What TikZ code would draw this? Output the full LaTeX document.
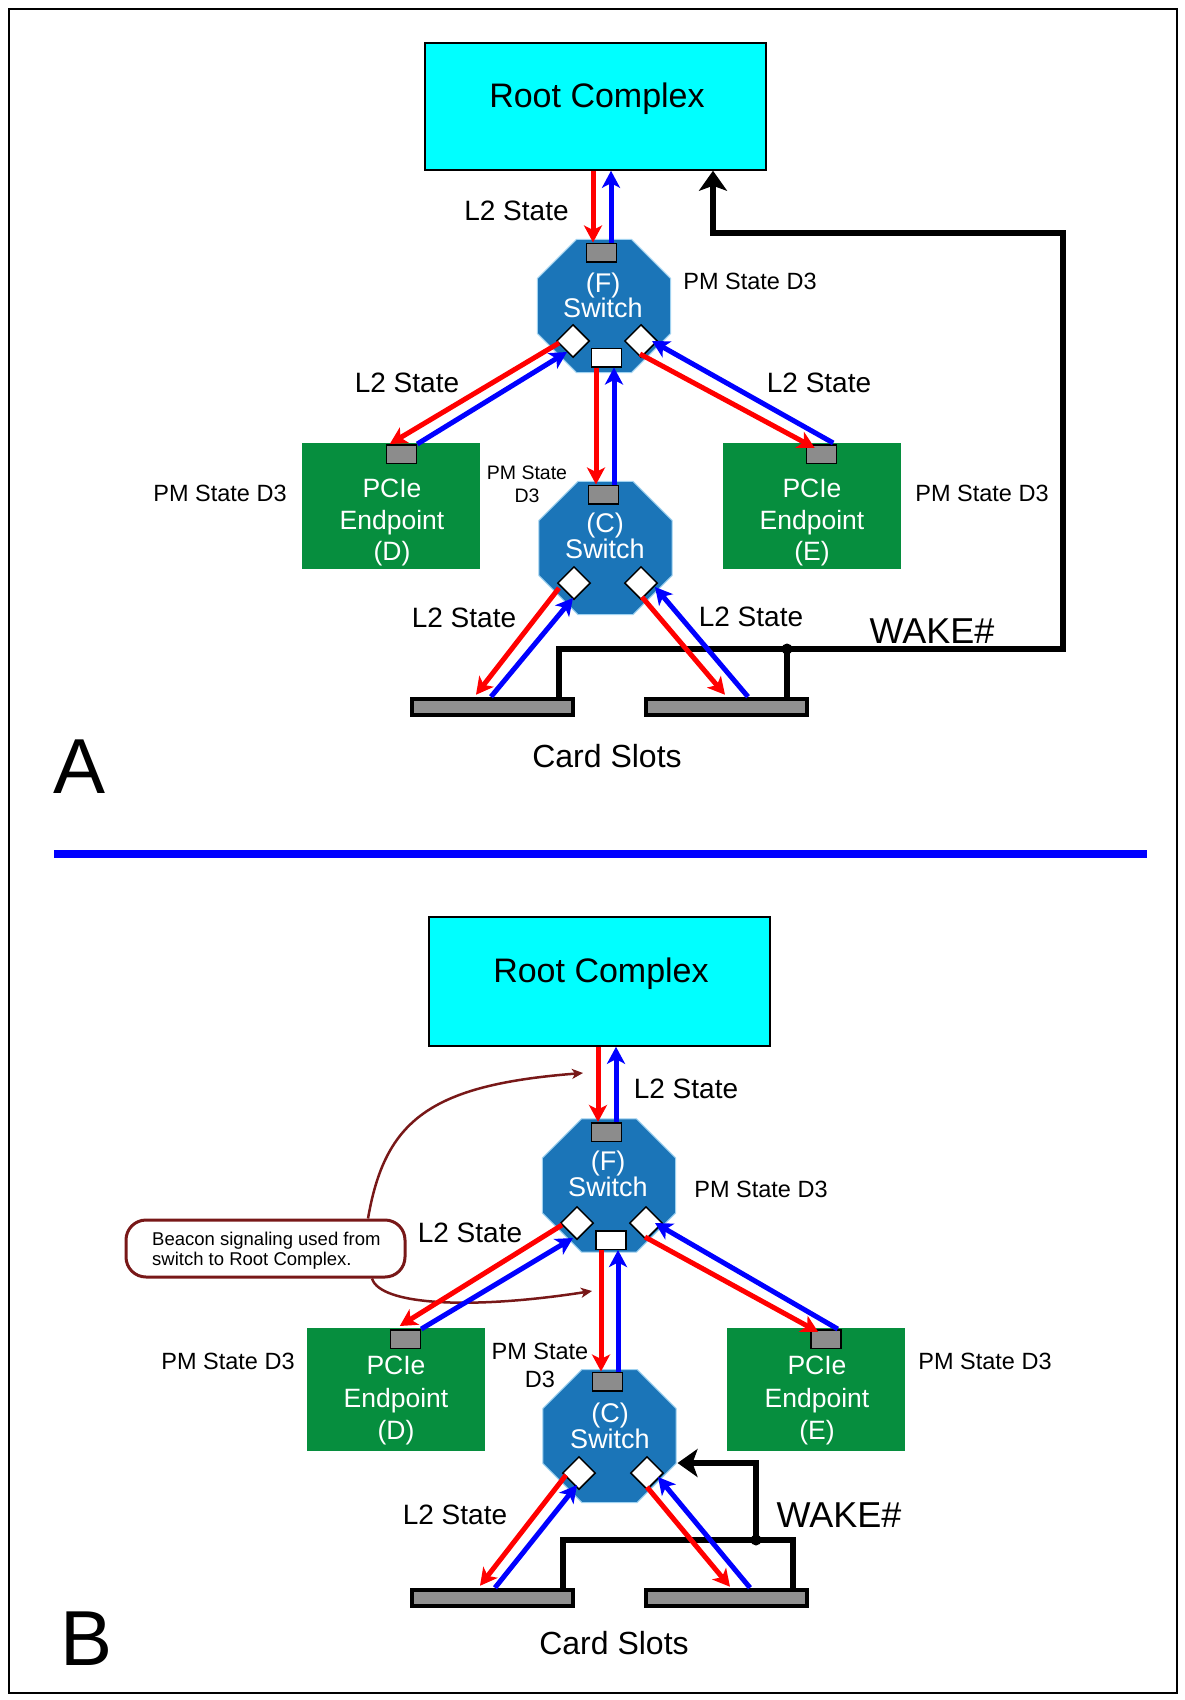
\documentclass[tikz,border=0pt]{standalone}
\usepackage{fontspec}
\setmainfont{Liberation Sans}
\usetikzlibrary{arrows.meta,shapes.geometric,calc}
\definecolor{rccyan}{RGB}{0,255,255}
\definecolor{swblue}{RGB}{27,117,184}
\definecolor{swedge}{RGB}{160,210,240}
\definecolor{epgreen}{RGB}{6,142,62}
\definecolor{portgray}{RGB}{140,140,140}
\definecolor{slotgray}{RGB}{145,145,145}
\definecolor{beaconred}{RGB}{120,24,24}
\definecolor{arrred}{RGB}{255,0,0}
\definecolor{arrblue}{RGB}{0,0,255}
\tikzset{
  rootbox/.style={rectangle, draw=black, line width=1.5pt, fill=rccyan, inner sep=0pt, minimum width=341pt, minimum height=127pt},
  switchoct/.style={regular polygon, regular polygon sides=8, fill=swblue, draw=swedge, line width=1pt, inner sep=0pt, minimum size=144pt},
  portbox/.style={rectangle, draw=black, line width=1.5pt, fill=portgray, inner sep=0pt, minimum width=30pt, minimum height=18.5pt},
  portwhite/.style={portbox, fill=white},
  portdiam/.style={diamond, aspect=1, draw=black, line width=1.5pt, fill=white, inner sep=0pt, minimum width=33pt, minimum height=33pt},
  epbox/.style={rectangle, fill=epgreen, inner sep=0pt, minimum width=178pt, minimum height=126pt},
  slotbox/.style={rectangle, draw=black, line width=4pt, fill=slotgray, inner sep=0pt, minimum width=161pt, minimum height=16.5pt},
  callout/.style={rectangle, rounded corners=20pt, draw=beaconred, line width=3pt, fill=white, inner sep=0pt, minimum width=279pt, minimum height=57pt},
  jdot/.style={circle, fill=black, inner sep=0pt, minimum size=11pt},
  redarr/.style={draw=arrred, line width=5pt, -{Stealth[length=17pt,width=18pt,inset=4.5pt]}},
  bluearr/.style={draw=arrblue, line width=5pt, -{Stealth[length=17pt,width=18pt,inset=4.5pt]}},
  wire/.style={draw=black, line width=6pt},
  wirearr/.style={wire, -{Stealth[length=20pt,width=28pt,inset=5pt]}},
  beacon/.style={draw=beaconred, line width=2.5pt, -{Stealth[length=11pt,width=10pt,inset=3pt]}},
  txt/.style={inner sep=0pt, anchor=base},
  fRoot/.style={txt, font=\fontsize{34}{40}\selectfont},
  fL2/.style={txt, font=\fontsize{28}{32}\selectfont},
  fPM/.style={txt, font=\fontsize{23.5}{27}\selectfont},
  fPMs/.style={txt, font=\fontsize{19.5}{23}\selectfont},
  fSw/.style={txt, text=white, font=\fontsize{27}{30}\selectfont},
  fEp/.style={txt, text=white, font=\fontsize{26.5}{30}\selectfont},
  fCard/.style={txt, font=\fontsize{32}{36}\selectfont},
  fWake/.style={txt, font=\fontsize{36}{40}\selectfont},
  fBig/.style={txt, font=\fontsize{78}{90}\selectfont},
  fBeacon/.style={inner sep=0pt, anchor=base west, font=\fontsize{18.5}{21}\selectfont},
}
\begin{document}
\begin{tikzpicture}[x=1pt,y=-1pt]
\useasboundingbox (0,0) rectangle (1185,1700);
\fill[white] (0,0) rectangle (1185,1700);
\draw[line width=1.5pt] (9,9) rectangle (1177,1693);

% ================= Panel A =================
\node[rootbox] (RA) at (595.5,106.5) {};
\node[fRoot] (RAt) at (597,107) {Root Complex};

\node[switchoct] (FA) at (604,306) {};
\node[portbox] (FAp) at (601.5,252.5) {};
\node[portdiam] (FAl) at (573,341) {};
\node[portdiam] (FAr) at (641,341) {};
\node[portwhite] (FAm) at (606.5,357.5) {};
\node[fSw] (FAt1) at (603,292) {(F)};
\node[fSw] (FAt2) at (603,317) {Switch};

\node[epbox] (DA) at (391,506) {};
\node[portbox] (DAp) at (401.5,454) {};
\node[fEp] (DAt1) at (392,497) {PCIe};
\node[fEp] (DAt2) at (392,529) {Endpoint};
\node[fEp] (DAt3) at (392,560) {(D)};

\node[epbox] (EA) at (811.5,506) {};
\node[portbox] (EAp) at (821.5,454) {};
\node[fEp] (EAt1) at (812,497) {PCIe};
\node[fEp] (EAt2) at (812,529) {Endpoint};
\node[fEp] (EAt3) at (812,560) {(E)};

\node[switchoct] (CA) at (605.5,548) {};
\node[portbox] (CAp) at (603.5,494.5) {};
\node[portdiam] (CAl) at (574,583) {};
\node[portdiam] (CAr) at (641,583) {};
\node[fSw] (CAt1) at (605,532) {(C)};
\node[fSw] (CAt2) at (605,558) {Switch};

\node[slotbox] (SA1) at (492.5,707) {};
\node[slotbox] (SA2) at (726,707) {};
\node[jdot] (JA) at (787,649) {};
\coordinate (WA1) at (1063,649);
\coordinate (WA2) at (1063,233);

\node[fL2] (LA1) at (516.5,220) {L2 State};
\node[fPM] (PA1) at (750,289) {PM State D3};
\node[fL2] (LA2) at (407,392) {L2 State};
\node[fL2] (LA3) at (819,392) {L2 State};
\node[fPM] (PA2) at (220,501) {PM State D3};
\node[fPM] (PA3) at (982,501) {PM State D3};
\node[fPMs] (PA4a) at (527,479) {PM State};
\node[fPMs] (PA4b) at (527,502) {D3};
\node[fL2] (LA4) at (464,627) {L2 State};
\node[fL2] (LA5) at (751,626) {L2 State};
\node[fWake] (WAt) at (932,643) {WAKE\#};
\node[fCard] (CSA) at (607,767) {Card Slots};
\node[fBig] (LetA) at (80,793) {A};

% wires A
\draw[wirearr] ($(SA1.north)+(66.5,0)$) |- (WA1) -- (WA2) -| ($(RA.south)+(117.5,0)$);
\draw[wire] ($(SA2.north)+(61,0)$) -- (JA.center);

% links A
\draw[redarr] ($(RA.south)+(-2.5,0)$) -- ($(FAp.north)+(-8.5,0)$);
\draw[bluearr] ($(FAp.north)+(9.5,0)$) -- ($(RA.south)+(15.5,0)$);
\draw[redarr] ($(FAl.center)+(-14,2)$) -- ($(DAp.north west)+(4,0)$);
\draw[bluearr] (DAp.north east) -- ($(FAl.center)+(-6,11)$);
\draw[redarr] ($(FAr.center)+(-1,13)$) -- ($(EAp.north west)+(9,4)$);
\draw[bluearr] ($(EAp.north east)+(-4,-1)$) -- ($(FAr.center)+(11,0)$);
\draw[redarr] ($(FAm.south)+(-10.5,0)$) -- ($(CAp.north)+(-7.5,0)$);
\draw[bluearr] ($(CAp.north)+(10.5,0)$) -- ($(FAm.south)+(7.5,0)$);
\draw[redarr] ($(CAl.center)+(-15,5)$) -- ($(SA1.north)+(-16.5,-2)$);
\draw[bluearr] ($(SA1.north)+(-1.5,0)$) -- ($(CAl.center)+(-1,15)$);
\draw[redarr] ($(CAr.center)+(1,14)$) -- ($(SA2.north)+(-1,-2)$);
\draw[bluearr] ($(SA2.north)+(22,0)$) -- ($(CAr.center)+(14,4)$);

% separator
\draw[draw=arrblue, line width=8pt] (54,854) -- (1147,854);

% ================= Panel B =================
\node[rootbox, minimum height=129pt] (RB) at (599.5,981.5) {};
\node[fRoot] (RBt) at (601,982) {Root Complex};

\node[switchoct] (FB) at (609,1185.5) {};
\node[portbox] (FBp) at (606.5,1132) {};
\node[portdiam] (FBl) at (577,1223) {};
\node[portdiam] (FBr) at (646,1223) {};
\node[portwhite] (FBm) at (611,1240) {};
\node[fSw] (FBt1) at (608,1170) {(F)};
\node[fSw] (FBt2) at (608,1196) {Switch};

\node[epbox, minimum height=123pt] (DB) at (396,1389.5) {};
\node[portbox] (DBp) at (405.5,1339) {};
\node[fEp] (DBt1) at (396,1374) {PCIe};
\node[fEp] (DBt2) at (396,1407) {Endpoint};
\node[fEp] (DBt3) at (396,1439) {(D)};

\node[epbox, minimum height=123pt] (EB) at (816,1389.5) {};
\node[portbox] (EBp) at (826,1339) {};
\node[fEp] (EBt1) at (817,1374) {PCIe};
\node[fEp] (EBt2) at (817,1407) {Endpoint};
\node[fEp] (EBt3) at (817,1439) {(E)};

\node[switchoct] (CB) at (609.5,1436) {};
\node[portbox] (CBp) at (607.5,1381.5) {};
\node[portdiam] (CBl) at (579,1473) {};
\node[portdiam] (CBr) at (647,1473) {};
\node[fSw] (CBt1) at (610,1422) {(C)};
\node[fSw] (CBt2) at (610,1448) {Switch};

\node[slotbox] (SB1) at (492,1598) {};
\node[slotbox] (SB2) at (726.5,1598) {};
\node[jdot] (JB) at (756,1540) {};
\coordinate (WB1) at (793,1540);

\node[fL2] (LB1) at (686,1098) {L2 State};
\node[fPM] (PB1) at (761,1197) {PM State D3};
\node[fL2] (LB2) at (470,1242) {L2 State};
\node[fPM] (PB2) at (228,1369) {PM State D3};
\node[fPM] (PB3) at (985,1369) {PM State D3};
\node[fPM] (PB4a) at (540,1359) {PM State};
\node[fPM] (PB4b) at (540,1387) {D3};
\node[fL2] (LB3) at (455,1524) {L2 State};
\node[fWake] (WBt) at (839,1527) {WAKE\#};
\node[fCard] (CSB) at (614,1654) {Card Slots};
\node[fBig] (LetB) at (87,1665) {B};

% callout
\node[callout] (BC) at (265.5,1248.5) {};
\node[fBeacon] (BCt1) at (152,1245) {Beacon signaling used from};
\node[fBeacon] (BCt2) at (152,1265) {switch to Root Complex.};
\coordinate (BT1) at (583,1073);
\coordinate (BT2) at (592,1291);
\draw[beacon] ($(BC.north)+(102.5,0)$) .. controls (385,1120) and (430,1085) .. (BT1);
\draw[beacon] ($(BC.south)+(106.5,0)$) .. controls (380,1305) and (470,1310) .. (BT2);

% wires B
\draw[wire] ($(SB1.north)+(71,0)$) |- (WB1) -- ($(SB2.north)+(66.5,0)$);
\draw[wirearr] (JB.center) |- ($(CB.east)+(1,27)$);

% links B
\draw[redarr] ($(RB.south)+(-1.5,0)$) -- ($(FBp.north)+(-8.5,0)$);
\draw[bluearr] ($(FBp.north)+(9.5,0)$) -- ($(RB.south)+(16.5,0)$);
\draw[redarr] ($(FBl.center)+(-15,2)$) -- ($(DBp.north west)+(10,-3)$);
\draw[bluearr] (DBp.north east) -- ($(FBl.center)+(-4,15)$);
\draw[redarr] ($(FBr.center)+(-1,14)$) -- ($(EBp.north west)+(8,3)$);
\draw[bluearr] ($(EBp.north east)+(-4,0)$) -- ($(FBr.center)+(9,0)$);
\draw[redarr] ($(FBm.south)+(-10,0)$) -- ($(CBp.north)+(-6.5,0)$);
\draw[bluearr] ($(CBp.north)+(10.5,0)$) -- ($(FBm.south)+(7,0)$);
\draw[redarr] ($(CBl.center)+(-13,2)$) -- ($(SB1.north)+(-12,-2)$);
\draw[bluearr] ($(SB1.north)+(3,0)$) -- ($(CBl.center)+(-2,12)$);
\draw[redarr] ($(CBr.center)+(0,14)$) -- ($(SB2.north)+(3.5,-1)$);
\draw[bluearr] ($(SB2.north)+(23.5,0)$) -- ($(CBr.center)+(11,4)$);
\end{tikzpicture}
\end{document}
